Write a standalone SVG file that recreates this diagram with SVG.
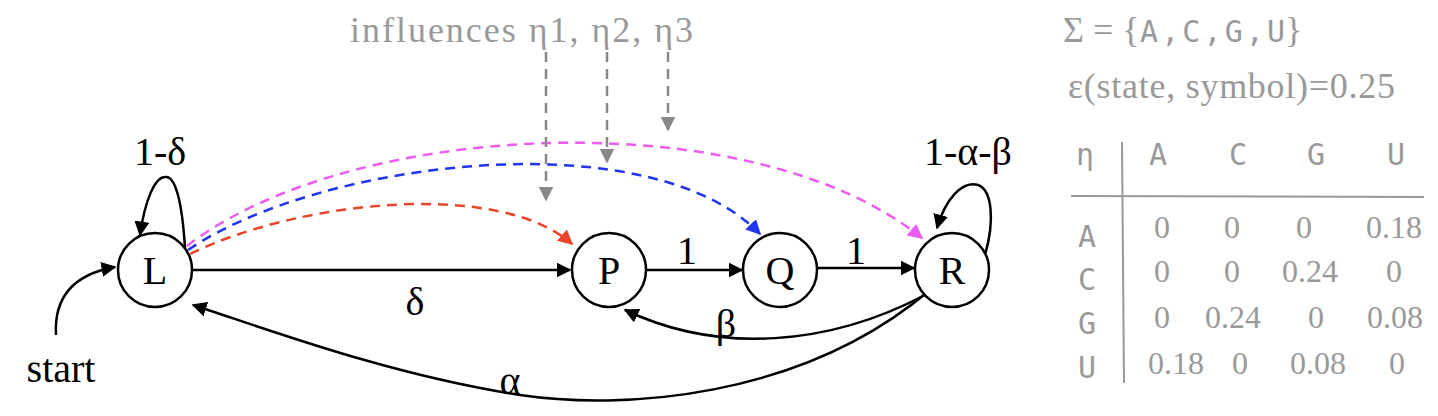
<svg xmlns="http://www.w3.org/2000/svg" width="1438" height="416" viewBox="0 0 1438 416">
<style>
.n{fill:#fff;stroke:#000;stroke-width:2.5}
.nt{font-family:"Liberation Serif",serif;font-size:40px;text-anchor:middle}
.e{fill:none;stroke:#000;stroke-width:2.5}
.lb{font-family:"Liberation Serif",serif;font-size:40px;text-anchor:middle}
.g{fill:#999;font-family:"Liberation Serif",serif;font-size:36px}
.m{fill:#999;font-family:"DejaVu Sans Mono",monospace;font-size:30px;text-anchor:middle}
.d{fill:none;stroke-width:2.5;stroke-dasharray:10 7}
</style>
<defs>
<marker id="a" viewBox="0 0 10 10" refX="9" refY="5" markerWidth="6" markerHeight="6" orient="auto"><path d="M0,0L10,5L0,10z" fill="#000"/></marker>
<marker id="ar" viewBox="0 0 10 10" refX="9" refY="5" markerWidth="6" markerHeight="6" orient="auto"><path d="M0,0L10,5L0,10z" fill="#e8442a"/></marker>
<marker id="ab" viewBox="0 0 10 10" refX="9" refY="5" markerWidth="6" markerHeight="6" orient="auto"><path d="M0,0L10,5L0,10z" fill="#1f35f0"/></marker>
<marker id="am" viewBox="0 0 10 10" refX="9" refY="5" markerWidth="6" markerHeight="6" orient="auto"><path d="M0,0L10,5L0,10z" fill="#ec5cf0"/></marker>
<marker id="ag" viewBox="0 0 10 10" refX="9" refY="5" markerWidth="6" markerHeight="6" orient="auto"><path d="M0,0L10,5L0,10z" fill="#888"/></marker>
</defs>
<g id="connectors">
<path class="e" d="M185,248 C182,200 175,175 165,177 C155,177 145,200 140,235" marker-end="url(#a)"/>
<path class="e" d="M56,335 C54,300 70,275 115,267" marker-end="url(#a)"/>
<path class="e" d="M192,270 L570,270" marker-end="url(#a)"/>
<path class="e" d="M646,270 L742,270" marker-end="url(#a)"/>
<path class="e" d="M817,268 L914,268" marker-end="url(#a)"/>
<path class="e" d="M985,255 C995,220 992,190 978,185 C962,180 945,200 937,228" marker-end="url(#a)"/>
<path class="e" d="M925,295 C830,345 720,355 625,310" marker-end="url(#a)"/>
<path class="e" d="M930,290 C800,400 620,410 520,395 C390,375 270,330 193,305" marker-end="url(#a)"/>
<path class="d" stroke="#e8442a" d="M190,254 C300,200 500,180 572,244" marker-end="url(#ar)"/>
<path class="d" stroke="#1f35f0" d="M188,250 C320,160 650,120 760,234" marker-end="url(#ab)"/>
<path class="d" stroke="#ec5cf0" d="M187,246 C350,120 750,100 922,238" marker-end="url(#am)"/>
<path class="d" stroke="#888" d="M546,52 L546,200" marker-end="url(#ag)"/>
<path class="d" stroke="#888" d="M607,52 L607,162" marker-end="url(#ag)"/>
<path class="d" stroke="#888" d="M668,52 L668,130" marker-end="url(#ag)"/>
</g>
<g id="L"><ellipse class="n" cx="155" cy="270" rx="37" ry="37"/><text class="nt" x="155" y="284">L</text></g>
<g id="P"><ellipse class="n" cx="609" cy="270" rx="37" ry="37"/><text class="nt" x="609" y="284">P</text></g>
<g id="Q"><ellipse class="n" cx="780" cy="270" rx="37" ry="37"/><text class="nt" x="780" y="284">Q</text></g>
<g id="R"><ellipse class="n" cx="952" cy="270" rx="37" ry="37"/><text class="nt" x="952" y="284">R</text></g>
<g id="labels">
<text class="lb" x="160" y="165">1-δ</text>
<text class="lb" x="61" y="382">start</text>
<text class="lb" x="415" y="315">δ</text>
<text class="lb" x="687" y="264">1</text>
<text class="lb" x="856" y="264">1</text>
<text class="lb" x="968" y="165">1-α-β</text>
<text class="lb" x="726" y="337">β</text>
<text class="lb" x="510" y="394">α</text>
<text class="g" x="350" y="42" textLength="343">influences η1, η2, η3</text>
<text class="g" x="1063" y="42">Σ = {</text><text class="m" x="1140" y="42" style="text-anchor:start" textLength="145">A,C,G,U</text><text class="g" x="1285" y="42">}</text>
<text class="g" x="1068" y="98" textLength="327">ε(state, symbol)=0.25</text>
</g>
<g id="table">
<line x1="1122" y1="142" x2="1124" y2="383" stroke="#999" stroke-width="2"/>
<line x1="1071" y1="196" x2="1424" y2="197" stroke="#999" stroke-width="2"/>
<text class="m" x="1085" y="165">η</text><text class="m" x="1158" y="165">A</text><text class="m" x="1238" y="165">C</text><text class="m" x="1316" y="165">G</text><text class="m" x="1396" y="165">U</text>
<text class="m" x="1087" y="247">A</text><text class="m" x="1087" y="290">C</text><text class="m" x="1087" y="334">G</text><text class="m" x="1087" y="378">U</text>
<g class="g" style="text-anchor:middle;font-size:32px">
<text x="1162" y="238">0</text><text x="1232" y="238">0</text><text x="1304" y="238">0</text><text x="1394" y="238">0.18</text>
<text x="1162" y="282">0</text><text x="1232" y="282">0</text><text x="1310" y="282">0.24</text><text x="1394" y="282">0</text>
<text x="1162" y="328">0</text><text x="1233" y="328">0.24</text><text x="1316" y="328">0</text><text x="1395" y="328">0.08</text>
<text x="1176" y="374">0.18</text><text x="1240" y="374">0</text><text x="1318" y="374">0.08</text><text x="1397" y="374">0</text>
</g>
</g>
</svg>
